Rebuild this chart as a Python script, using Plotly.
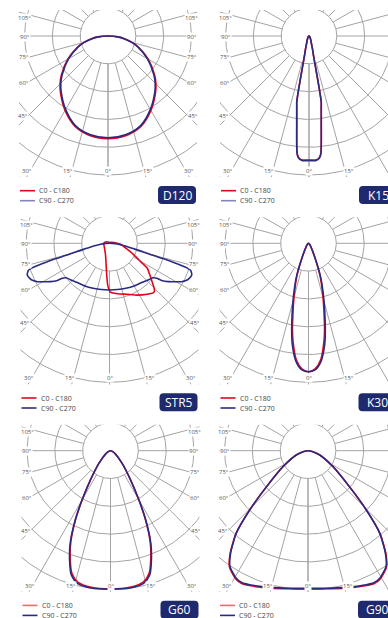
import numpy as np
import plotly.graph_objects as go

W, H = 388, 618

# ---------------- data (luminous intensity, cd/klm; grid ring step = 100) ----------------
d120_gamma = [0, 10, 20, 30, 40, 45, 50, 60, 70, 75, 80, 85, 90]
d120_c0 = [369, 364, 346, 309, 266, 244, 219, 167, 116, 90, 62, 36, 0]
d120_c90 = [366, 361, 343, 305, 262, 240, 215, 164, 114, 89, 61, 36, 0]

k15_gamma = [0, 3, 4.5, 5.5, 6, 6.5, 7, 8, 9, 10, 10.5, 11, 11.3, 11.7, 12.2, 13, 15, 17, 20, 25, 35, 50, 90]
k15_c0 = [446, 447, 442, 430, 415, 389, 362, 316, 281, 253, 241, 196, 160, 124, 96, 71, 48, 32, 23, 14, 7, 4, 0]
k15_c90 = [448, 449, 444, 432, 417, 391, 364, 318, 283, 255, 243, 198, 162, 126, 97, 72, 49, 32, 23, 14, 7, 4, 0]

str5_gamma_c0 = [0, 1, 9, 19, 28, 36.5, 42, 44, 48, 52, 56.5, 59.5, 64.5, 71.5, 85, 99, 120, 150, 180]
str5_c0 = [171, 176, 184, 194, 211, 228, 238, 233, 206, 184, 163, 130, 97, 67, 40, 16, 7, 4, 0]
str5_gamma_c180 = [0, 2.5, 6, 10, 19, 40, 60, 80, 90, 100, 120, 150, 180]
str5_c180 = [171, 150, 103, 72, 44, 27, 22, 21, 20, 18, 11, 4, 0]
str5_gamma_c90 = [0, 10, 20, 30, 40, 47, 51.5, 53.5, 54.5, 57, 59.5, 62, 64, 66, 69, 71.5, 72.5, 73, 74, 74.5, 76, 77.5, 80, 84, 88, 90]
str5_c90 = [168, 169, 172, 177, 183, 192, 199, 211, 230, 253, 272, 294, 306, 313, 317, 308, 288, 259, 209, 162, 119, 83, 58, 32, 11, 0]

k30_gamma = [0, 3, 6, 9, 10.5, 12, 15, 19.5, 23.5, 31, 45, 90]
k30_c0 = [462, 452, 421, 356, 317, 272, 202, 126, 61, 20, 6, 0]
k30_c90 = [462, 456, 428, 371, 331, 288, 216, 133, 65, 22, 7, 0]

g60_gamma = [0, 8, 14, 17.5, 20.5, 23.5, 27, 30, 34.5, 42.5, 56, 70, 90]
g60_c0 = [497, 496, 487, 462, 414, 358, 275, 202, 126, 61, 21, 7, 0]
g60_c90 = [498, 499, 492, 469, 420, 364, 279, 205, 128, 62, 22, 7, 0]

g90_gamma = [0, 5, 10, 17, 23.5, 26.5, 29.5, 34, 37, 41, 44.5, 49, 57.5, 70, 78.5, 90]
g90_c0 = [497, 499, 504, 516, 529, 534, 529, 505, 466, 395, 301, 198, 107, 45, 18, 0]
g90_c90 = [495, 497, 502, 513, 526, 531, 526, 502, 463, 393, 299, 197, 106, 45, 18, 0]

panel_names = ["D120", "K15", "STR5", "K30", "G60", "G90"]
angle_labels = ["105°", "90°", "75°", "60°", "45°", "30°", "15°", "0°"]
legend_labels = ["C0 - C180", "C90 - C270"]

# ---------------- styling / layout ----------------
RED = "#e3061b"
BLUE = "#2b2a82"
GRID = "#a3a3a3"
RING_PX = 27.8
RING_STEP = 100.0
S = RING_PX / RING_STEP

centers = [(108.0, 36.0), (309.0, 36.0), (109.5, 243.3), (308.5, 243.3), (110.5, 450.7), (308.0, 450.7)]
smooth = [1.0, 0.4, 0.5, 1.0, 0.8, 0.6]
FL, FR, FT, FB = 89, 89, 26, 141

panels = [
    dict(g0=d120_gamma, c0=d120_c0, g180=d120_gamma, c180=d120_c0, g90=d120_gamma, c90=d120_c90),
    dict(g0=k15_gamma, c0=k15_c0, g180=k15_gamma, c180=k15_c0, g90=k15_gamma, c90=k15_c90),
    dict(g0=str5_gamma_c0, c0=str5_c0, g180=str5_gamma_c180, c180=str5_c180, g90=str5_gamma_c90, c90=str5_c90),
    dict(g0=k30_gamma, c0=k30_c0, g180=k30_gamma, c180=k30_c0, g90=k30_gamma, c90=k30_c90),
    dict(g0=g60_gamma, c0=g60_c0, g180=g60_gamma, c180=g60_c0, g90=g60_gamma, c90=g60_c90),
    dict(g0=g90_gamma, c0=g90_c0, g180=g90_gamma, c180=g90_c0, g90=g90_gamma, c90=g90_c90),
]


def curve_xy(g_left, i_left, g_right, i_right):
    gl = np.radians(np.array(g_left, float))[::-1]
    il = np.array(i_left, float)[::-1] * S
    gr = np.radians(np.array(g_right, float))[1:]
    ir = np.array(i_right, float)[1:] * S
    x = np.concatenate([-il * np.sin(gl), ir * np.sin(gr)])
    y = np.concatenate([-il * np.cos(gl), -ir * np.cos(gr)])
    return x, y


def P(x, y):
    return x / W, 1 - y / H


fig = go.Figure()
layout = dict(width=W, height=H, margin=dict(l=0, r=0, t=0, b=0), autosize=False,
              paper_bgcolor="white", plot_bgcolor="rgba(0,0,0,0)", showlegend=False)
shapes, annotations = [], []

ring_t = np.linspace(0, 2 * np.pi, 361)
label_pos = {  # label offsets (px) relative to the diagram centre
    "105°": (83.5, 18.5), "90°": (83.5, -0.7), "75°": (84, -21), "60°": (84, -47), "45°": (85, -80),
    "30°": (81, -135), "15°": (40, -135), "0°": (0, -135),
}
legend_row_colors = [("#e30613", "#8582c2"), (RED, BLUE), ("#f06a6a", BLUE)]

for k, (cx, cy) in enumerate(centers):
    n = k + 1
    xa, ya = ("x" if n == 1 else f"x{n}"), ("y" if n == 1 else f"y{n}")
    xl, xr = cx - FL, min(cx + FR, W)
    layout["xaxis" if n == 1 else f"xaxis{n}"] = dict(
        domain=[xl / W, xr / W], range=[xl - cx, xr - cx], visible=False, fixedrange=True, anchor=ya)
    layout["yaxis" if n == 1 else f"yaxis{n}"] = dict(
        domain=[1 - (cy + FB) / H, 1 - (cy - FT) / H], range=[-FB, FT], visible=False, fixedrange=True, anchor=xa)

    # grid rings
    for m in range(1, 8):
        r = m * RING_PX
        fig.add_trace(go.Scatter(x=r * np.cos(ring_t), y=r * np.sin(ring_t), mode="lines",
                                 line=dict(color=GRID, width=1), hoverinfo="skip", xaxis=xa, yaxis=ya))
    # grid spokes every 15 degrees
    sx, sy = [], []
    for a in range(0, 181, 15):
        for side in (-1, 1):
            t = np.radians(a)
            sx += [side * RING_PX * np.sin(t), side * 400 * np.sin(t), None]
            sy += [-RING_PX * np.cos(t), -400 * np.cos(t), None]
    fig.add_trace(go.Scatter(x=sx, y=sy, mode="lines", line=dict(color=GRID, width=1),
                             hoverinfo="skip", xaxis=xa, yaxis=ya))

    p = panels[k]
    x0, y0 = curve_xy(p["g180"], p["c180"], p["g0"], p["c0"])
    x9, y9 = curve_xy(p["g90"], p["c90"], p["g90"], p["c90"])
    sm = smooth[k]
    fig.add_trace(go.Scatter(x=x0, y=y0, mode="lines", line=dict(color=RED, width=1.6, shape="spline", smoothing=sm),
                             hoverinfo="skip", xaxis=xa, yaxis=ya))
    fig.add_trace(go.Scatter(x=x9, y=y9, mode="lines", line=dict(color=BLUE, width=1.6, shape="spline", smoothing=sm),
                             hoverinfo="skip", xaxis=xa, yaxis=ya))

    # angle labels
    for lab in angle_labels:
        dx, dy = label_pos[lab]
        sides = (0,) if dx == 0 else (-1, 1)
        for sgn in sides:
            annotations.append(dict(x=dx * (sgn if sgn else 1), y=dy, xref=xa, yref=ya, text=lab, showarrow=False,
                                    font=dict(size=6, color="#555", family="Open Sans"), bgcolor="white",
                                    borderpad=0, xanchor="center", yanchor="middle"))

    # legend
    row = k // 2
    lc = legend_row_colors[row]
    for j, (lab, col) in enumerate(zip(legend_labels, lc)):
        ly = cy + 154.7 + j * 10
        a0 = P(cx - 88, ly)
        a1 = P(cx - 73, ly)
        shapes.append(dict(type="line", xref="paper", yref="paper", x0=a0[0], y0=a0[1], x1=a1[0], y1=a1[1],
                           line=dict(color=col, width=1.6)))
        t = P(cx - 71, ly)
        annotations.append(dict(x=t[0], y=t[1], xref="paper", yref="paper", text=lab, showarrow=False,
                                font=dict(size=7, color="#444", family="Open Sans"),
                                xanchor="left", yanchor="middle"))

    # badge
    by = cy + 159
    bx0, bx1, by0, by1, rr = cx + 50, cx + 88, by - 9, by + 9, 4
    pts = [("M", bx0 + rr, by0), ("L", bx1 - rr, by0), ("Q", bx1, by0, bx1, by0 + rr), ("L", bx1, by1 - rr),
           ("Q", bx1, by1, bx1 - rr, by1), ("L", bx0 + rr, by1), ("Q", bx0, by1, bx0, by1 - rr),
           ("L", bx0, by0 + rr), ("Q", bx0, by0, bx0 + rr, by0)]
    path = ""
    for seg in pts:
        cmd = seg[0]
        coords = seg[1:]
        cs = []
        for i in range(0, len(coords), 2):
            px_, py_ = P(coords[i], coords[i + 1])
            cs.append(f"{px_:.5f},{py_:.5f}")
        path += cmd + " ".join(cs) + " "
    path += "Z"
    shapes.append(dict(type="path", xref="paper", yref="paper", path=path, fillcolor="#1f2a6e",
                       line=dict(color="#1f2a6e", width=0)))
    t = P(cx + 69, by)
    annotations.append(dict(x=t[0], y=t[1], xref="paper", yref="paper", text=panel_names[k], showarrow=False,
                            font=dict(size=12, color="white", family="Open Sans"), xanchor="center", yanchor="middle"))

layout["shapes"] = shapes
layout["annotations"] = annotations
fig.update_layout(**layout)
fig.write_html("out.html", config={"displayModeBar": False},
               post_script="document.body.style.margin='0';document.body.style.overflow='hidden';")
